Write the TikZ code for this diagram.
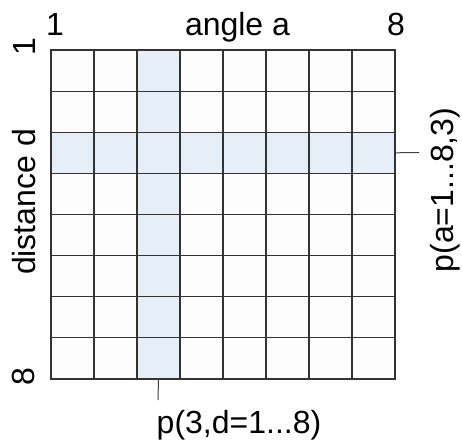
\documentclass[tikz,border=0pt]{standalone}
\usepackage{fontspec}
\setmainfont{Liberation Sans}
\definecolor{gridline}{HTML}{333333}
\definecolor{hl}{HTML}{E6EEF8}
\definecolor{cellbg}{HTML}{FDFDFD}
\definecolor{tickc}{HTML}{404040}
\begin{document}
\begin{tikzpicture}[x=1pt,y=-1pt,
  cell/.style={draw=gridline, line width=1.1pt, fill=cellbg, inner sep=0pt, outer sep=0pt,
    minimum width=43pt, minimum height=41.125pt},
  hlcell/.style={cell, fill=hl},
  lab/.style={font=\fontsize{32}{32}\selectfont, inner sep=0pt},
  tickline/.style={draw=tickc, line width=1pt}]
\useasboundingbox (0,0) rectangle (462,444);
\foreach \i in {1,...,8}{
  \foreach \j in {1,...,8}{
    \pgfmathtruncatemacro{\ishl}{(\i==3)||(\j==3)}
    \ifnum\ishl=1
      \node[hlcell] (c-\i-\j) at ({51+43*(\i-0.5)},{50+41.125*(\j-0.5)}) {};
    \else
      \node[cell] (c-\i-\j) at ({51+43*(\i-0.5)},{50+41.125*(\j-0.5)}) {};
    \fi
  }
}
% top labels
\node[lab, anchor=base] (a1) at (55,35) {1};
\node[lab, anchor=base] (atitle) at (237.5,35) {angle a};
\node[lab, anchor=base] (a8) at (396,35) {8};
% left labels
\node[lab, rotate=90, anchor=base] (d1) at (35,47) {1};
\node[lab, rotate=90, anchor=base] (dtitle) at (35,202) {distance d};
\node[lab, rotate=90, anchor=base] (d8) at (34,377) {8};
% tick connectors
\coordinate (tb) at (158,400);
\coordinate (tr) at (419,152.5);
\draw[tickline] (c-3-8.south) -- (tb);
\draw[tickline] (c-8-3.east) -- (tr);
% probe labels
\node[lab] (pcol) at (239,425) {p(3,d=1...8)};
\node[lab, rotate=90] (prow) at (445,190) {p(a=1...8,3)};
\end{tikzpicture}
\end{document}
